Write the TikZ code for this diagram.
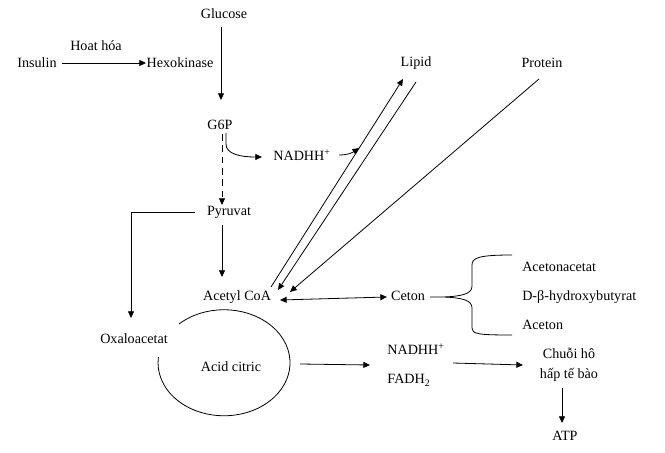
\documentclass[tikz,border=0pt]{standalone}
\usepackage{fontspec}
\setmainfont{Liberation Serif}
\usetikzlibrary{arrows.meta}
\begin{document}
\begin{tikzpicture}[x=0.75pt,y=-0.75pt,
  font=\fontsize{10.6}{13}\selectfont,
  lbl/.style={inner sep=0pt,text height=1.5ex,text depth=0.25ex},
  arr/.style={line width=0.6pt,-{Triangle[length=5pt,width=4.5pt]}},
  ln/.style={line width=0.6pt},
  dsh/.style={dash pattern=on 5pt off 3.5pt}]
\useasboundingbox (0,0) rectangle (665,453);
% nodes
\node[lbl] (glucose) at (224,15) {Glucose};
\node[lbl] (insulin) at (37,64) {Insulin};
\node[lbl] (hoat) at (96,47) {Hoat hóa};
\node[lbl] (hexo) at (180,64) {Hexokinase};
\node[lbl] (g6p) at (220,126) {G6P};
\node[lbl] (nadh1) at (302,157) {NADHH\textsuperscript{+}};
\node[lbl] (pyruvat) at (229,212) {Pyruvat};
\node[lbl] (acetyl) at (237,297) {Acetyl CoA};
\node[lbl] (oxalo) at (134,340) {Oxaloacetat};
\node[lbl] (citric) at (231,368) {Acid citric};
\node[lbl] (lipid) at (416,63) {Lipid};
\node[lbl] (protein) at (542,64) {Protein};
\node[lbl] (ceton) at (408,297) {Ceton};
\node[lbl,anchor=west] (acac) at (522,268) {Acetonacetat};
\node[lbl,anchor=west] (dbeta) at (522,297) {D-β-hydroxybutyrat};
\node[lbl,anchor=west] (aceton) at (522,326) {Aceton};
\node[lbl] (nadh2) at (416,351) {NADHH\textsuperscript{+}};
\node[lbl] (fadh) at (409,380) {FADH\textsubscript{2}};
\node[inner sep=0pt,align=center,font=\fontsize{10.6}{15}\selectfont] (chuoi) at (569,365) {Chuỗi hô\\hấp tế bào};
\node[lbl] (atp) at (565,437) {ATP};
% connectors
\draw[arr] ([shift={(25,-1)}]insulin.center) -- ([shift={(-34,-1)}]hexo.center);
\draw[arr] ([shift={(-3,12)}]glucose.center) -- ([shift={(1,-26)}]g6p.center);
\draw[arr,dsh] ([shift={(2,8)}]g6p.center) -- ([shift={(-7,-7)}]pyruvat.center);
\draw[arr] ([shift={(6,7)}]g6p.center) -- ++(0,11) .. controls +(0,10) and +(-22,0) .. ([shift={(-40,0)}]nadh1.center);
\path ([shift={(34,-10)}]acetyl.center) -- ([shift={(-13,16)}]lipid.center) coordinate[pos=0.668] (m);
\draw[arr] ([shift={(34,-10)}]acetyl.center) -- ([shift={(-13,16)}]lipid.center);
\draw[arr] ([shift={(37,-2)}]nadh1.center) .. controls +(10,0) and +(-6,4) .. (m);
\draw[arr] ([shift={(0,19)}]lipid.center) -- ([shift={(41,-7)}]acetyl.center);
\draw[arr] ([shift={(-3,15)}]protein.center) -- ([shift={(53,-5)}]acetyl.center);
\draw[arr] ([shift={(-34,0)}]pyruvat.center) -| ([shift={(-3,-22)}]oxalo.center);
\draw[arr] ([shift={(-7,13)}]pyruvat.center) -- ([shift={(-15,-20)}]acetyl.center);
\draw[ln,{Triangle[length=5pt,width=4.5pt]}-{Triangle[length=5pt,width=4.5pt]}] ([shift={(43,3)}]acetyl.center) -- ([shift={(-21,0)}]ceton.center);
% citric acid cycle arc
\draw[ln] ([shift={(-52,-44)}]citric.center) arc[start angle=133,end angle=-186,x radius=49.5pt,y radius=39.75pt];
\draw[arr] ([shift={(69,-4)}]citric.center) -- ([shift={(-46,14)}]nadh2.center);
\draw[arr] ([shift={(37,12)}]nadh2.center) -- ([shift={(-46,0)}]chuoi.center);
\draw[arr] ([shift={(-7,23)}]chuoi.center) -- ([shift={(-3,-14)}]atp.center);
% brace
\draw[ln] ([shift={(22,0)}]ceton.center) -- (445,297)
  .. controls (462,296) and (472,294) .. (472,286) -- (472,265)
  .. controls (472,258) and (478,255) .. (512,255);
\draw[ln] (445,297)
  .. controls (462,298) and (472,300) .. (472,308) -- (472,328)
  .. controls (472,334) and (478,335) .. (512,335);
\end{tikzpicture}
\end{document}
